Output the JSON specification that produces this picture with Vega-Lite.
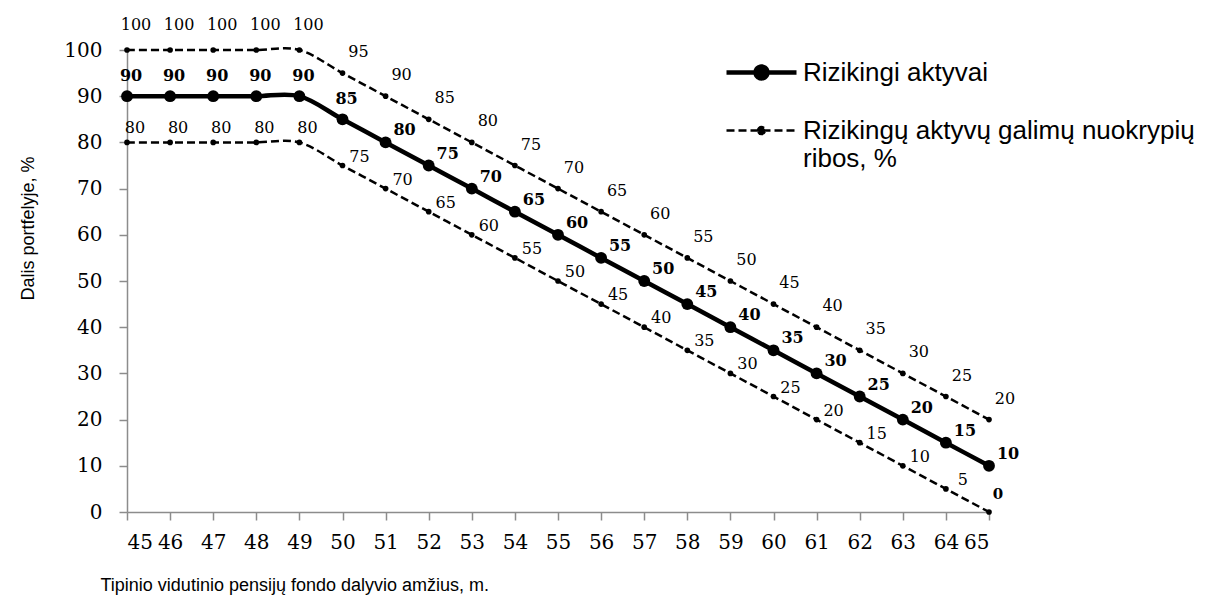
{
  "$schema": "https://vega.github.io/schema/vega-lite/v6.json",
  "width": 862,
  "height": 462,
  "autosize": "none",
  "padding": {"left": 127, "top": 50, "right": 219, "bottom": 86},
  "background": "white",
  "config": {
    "view": {"stroke": null},
    "legend": {
      "padding": 0,
      "labelFont": "Liberation Sans",
      "labelFontSize": 26,
      "labelColor": "#000000",
      "labelLimit": 600,
      "labelOffset": 4,
      "rowPadding": 6,
      "symbolOpacity": 1,
      "symbolStrokeColor": "#000000",
      "symbolFillColor": "#000000"
    },
    "axis": {
      "grid": false,
      "domainColor": "#8c8c8c",
      "domainWidth": 1.5,
      "tickColor": "#8c8c8c",
      "tickWidth": 1.5,
      "tickSize": 8,
      "labelFont": "DejaVu Serif",
      "labelFontSize": 20,
      "labelColor": "#000000",
      "titleFont": "Liberation Sans",
      "titleFontSize": 18,
      "titleFontWeight": "normal",
      "titleColor": "#000000"
    }
  },
  "data": {
    "values": [
      {"age": 45, "value": 100, "line": "upper", "type": "Rizikingų aktyvų galimų nuokrypių ribos, %"},
      {"age": 46, "value": 100, "line": "upper", "type": "Rizikingų aktyvų galimų nuokrypių ribos, %"},
      {"age": 47, "value": 100, "line": "upper", "type": "Rizikingų aktyvų galimų nuokrypių ribos, %"},
      {"age": 48, "value": 100, "line": "upper", "type": "Rizikingų aktyvų galimų nuokrypių ribos, %"},
      {"age": 49, "value": 100, "line": "upper", "type": "Rizikingų aktyvų galimų nuokrypių ribos, %"},
      {"age": 50, "value": 95, "line": "upper", "type": "Rizikingų aktyvų galimų nuokrypių ribos, %"},
      {"age": 51, "value": 90, "line": "upper", "type": "Rizikingų aktyvų galimų nuokrypių ribos, %"},
      {"age": 52, "value": 85, "line": "upper", "type": "Rizikingų aktyvų galimų nuokrypių ribos, %"},
      {"age": 53, "value": 80, "line": "upper", "type": "Rizikingų aktyvų galimų nuokrypių ribos, %"},
      {"age": 54, "value": 75, "line": "upper", "type": "Rizikingų aktyvų galimų nuokrypių ribos, %"},
      {"age": 55, "value": 70, "line": "upper", "type": "Rizikingų aktyvų galimų nuokrypių ribos, %"},
      {"age": 56, "value": 65, "line": "upper", "type": "Rizikingų aktyvų galimų nuokrypių ribos, %"},
      {"age": 57, "value": 60, "line": "upper", "type": "Rizikingų aktyvų galimų nuokrypių ribos, %"},
      {"age": 58, "value": 55, "line": "upper", "type": "Rizikingų aktyvų galimų nuokrypių ribos, %"},
      {"age": 59, "value": 50, "line": "upper", "type": "Rizikingų aktyvų galimų nuokrypių ribos, %"},
      {"age": 60, "value": 45, "line": "upper", "type": "Rizikingų aktyvų galimų nuokrypių ribos, %"},
      {"age": 61, "value": 40, "line": "upper", "type": "Rizikingų aktyvų galimų nuokrypių ribos, %"},
      {"age": 62, "value": 35, "line": "upper", "type": "Rizikingų aktyvų galimų nuokrypių ribos, %"},
      {"age": 63, "value": 30, "line": "upper", "type": "Rizikingų aktyvų galimų nuokrypių ribos, %"},
      {"age": 64, "value": 25, "line": "upper", "type": "Rizikingų aktyvų galimų nuokrypių ribos, %"},
      {"age": 65, "value": 20, "line": "upper", "type": "Rizikingų aktyvų galimų nuokrypių ribos, %"},
      {"age": 45, "value": 90, "line": "main", "type": "Rizikingi aktyvai"},
      {"age": 46, "value": 90, "line": "main", "type": "Rizikingi aktyvai"},
      {"age": 47, "value": 90, "line": "main", "type": "Rizikingi aktyvai"},
      {"age": 48, "value": 90, "line": "main", "type": "Rizikingi aktyvai"},
      {"age": 49, "value": 90, "line": "main", "type": "Rizikingi aktyvai"},
      {"age": 50, "value": 85, "line": "main", "type": "Rizikingi aktyvai"},
      {"age": 51, "value": 80, "line": "main", "type": "Rizikingi aktyvai"},
      {"age": 52, "value": 75, "line": "main", "type": "Rizikingi aktyvai"},
      {"age": 53, "value": 70, "line": "main", "type": "Rizikingi aktyvai"},
      {"age": 54, "value": 65, "line": "main", "type": "Rizikingi aktyvai"},
      {"age": 55, "value": 60, "line": "main", "type": "Rizikingi aktyvai"},
      {"age": 56, "value": 55, "line": "main", "type": "Rizikingi aktyvai"},
      {"age": 57, "value": 50, "line": "main", "type": "Rizikingi aktyvai"},
      {"age": 58, "value": 45, "line": "main", "type": "Rizikingi aktyvai"},
      {"age": 59, "value": 40, "line": "main", "type": "Rizikingi aktyvai"},
      {"age": 60, "value": 35, "line": "main", "type": "Rizikingi aktyvai"},
      {"age": 61, "value": 30, "line": "main", "type": "Rizikingi aktyvai"},
      {"age": 62, "value": 25, "line": "main", "type": "Rizikingi aktyvai"},
      {"age": 63, "value": 20, "line": "main", "type": "Rizikingi aktyvai"},
      {"age": 64, "value": 15, "line": "main", "type": "Rizikingi aktyvai"},
      {"age": 65, "value": 10, "line": "main", "type": "Rizikingi aktyvai"},
      {"age": 45, "value": 80, "line": "lower", "type": "Rizikingų aktyvų galimų nuokrypių ribos, %"},
      {"age": 46, "value": 80, "line": "lower", "type": "Rizikingų aktyvų galimų nuokrypių ribos, %"},
      {"age": 47, "value": 80, "line": "lower", "type": "Rizikingų aktyvų galimų nuokrypių ribos, %"},
      {"age": 48, "value": 80, "line": "lower", "type": "Rizikingų aktyvų galimų nuokrypių ribos, %"},
      {"age": 49, "value": 80, "line": "lower", "type": "Rizikingų aktyvų galimų nuokrypių ribos, %"},
      {"age": 50, "value": 75, "line": "lower", "type": "Rizikingų aktyvų galimų nuokrypių ribos, %"},
      {"age": 51, "value": 70, "line": "lower", "type": "Rizikingų aktyvų galimų nuokrypių ribos, %"},
      {"age": 52, "value": 65, "line": "lower", "type": "Rizikingų aktyvų galimų nuokrypių ribos, %"},
      {"age": 53, "value": 60, "line": "lower", "type": "Rizikingų aktyvų galimų nuokrypių ribos, %"},
      {"age": 54, "value": 55, "line": "lower", "type": "Rizikingų aktyvų galimų nuokrypių ribos, %"},
      {"age": 55, "value": 50, "line": "lower", "type": "Rizikingų aktyvų galimų nuokrypių ribos, %"},
      {"age": 56, "value": 45, "line": "lower", "type": "Rizikingų aktyvų galimų nuokrypių ribos, %"},
      {"age": 57, "value": 40, "line": "lower", "type": "Rizikingų aktyvų galimų nuokrypių ribos, %"},
      {"age": 58, "value": 35, "line": "lower", "type": "Rizikingų aktyvų galimų nuokrypių ribos, %"},
      {"age": 59, "value": 30, "line": "lower", "type": "Rizikingų aktyvų galimų nuokrypių ribos, %"},
      {"age": 60, "value": 25, "line": "lower", "type": "Rizikingų aktyvų galimų nuokrypių ribos, %"},
      {"age": 61, "value": 20, "line": "lower", "type": "Rizikingų aktyvų galimų nuokrypių ribos, %"},
      {"age": 62, "value": 15, "line": "lower", "type": "Rizikingų aktyvų galimų nuokrypių ribos, %"},
      {"age": 63, "value": 10, "line": "lower", "type": "Rizikingų aktyvų galimų nuokrypių ribos, %"},
      {"age": 64, "value": 5, "line": "lower", "type": "Rizikingų aktyvų galimų nuokrypių ribos, %"},
      {"age": 65, "value": 0, "line": "lower", "type": "Rizikingų aktyvų galimų nuokrypių ribos, %"}
    ]
  },
  "encoding": {
    "x": {
      "field": "age",
      "type": "quantitative",
      "scale": {"domain": [45, 65], "nice": false, "zero": false},
      "axis": {
        "values": [45,46,47,48,49,50,51,52,53,54,55,56,57,58,59,60,61,62,63,64,65],
        "labelPadding": 12,
        "title": "Tipinio vidutinio pensijų fondo dalyvio amžius, m.",
        "titleAnchor": "start",
        "titleAlign": "left",
        "titleBaseline": "alphabetic",
        "titleX": -27,
        "titleY": 78
      }
    },
    "y": {
      "field": "value",
      "type": "quantitative",
      "scale": {"domain": [0, 100], "nice": false},
      "axis": {
        "values": [0,10,20,30,40,50,60,70,80,90,100],
        "labelPadding": 17,
        "title": "Dalis portfelyje, %",
        "titleAlign": "center",
        "titleBaseline": "alphabetic",
        "titleX": -94,
        "titleY": 178
      }
    }
  },
  "layer": [
    {
      "transform": [{"filter": "datum.line != 'main'"}],
      "mark": {"type": "line", "interpolate": "cardinal", "color": "#000000", "strokeWidth": 2.5, "strokeDash": [8, 4]},
      "encoding": {"detail": {"field": "line"}}
    },
    {
      "transform": [{"filter": "datum.line == 'main'"}],
      "mark": {"type": "line", "interpolate": "cardinal", "color": "#000000", "strokeWidth": 4.5},
      "encoding": {}
    },
    {
      "transform": [{"filter": "datum.line != 'main'"}],
      "mark": {"type": "circle", "opacity": 1, "color": "#000000", "size": 32},
      "encoding": {}
    },
    {
      "transform": [{"filter": "datum.line == 'main'"}],
      "mark": {"type": "circle", "opacity": 1, "color": "#000000", "size": 140},
      "encoding": {}
    },
    {
      "mark": {"type": "point", "filled": true, "opacity": 0, "fill": "#000000"},
      "encoding": {
        "shape": {
          "field": "type",
          "type": "nominal",
          "scale": {
            "domain": ["Rizikingi aktyvai", "Rizikingų aktyvų galimų nuokrypių ribos, %"],
            "range": [
              "M-1,0L1,0M-0.17,0A0.17,0.17,0,1,1,0.17,0A0.17,0.17,0,1,1,-0.17,0Z",
              "M-1,0L1,0M-0.1,0A0.1,0.1,0,1,1,0.1,0A0.1,0.1,0,1,1,-0.1,0Z"
            ]
          },
          "legend": {
            "title": null,
            "orient": "none",
            "legendX": 597,
            "legendY": -15,
            "rowPadding": 6,
            "symbolSize": 4900,
            "labelExpr": "datum.label == 'Rizikingi aktyvai' ? datum.label : ['Rizikingų aktyvų galimų nuokrypių', 'ribos, %']",
            "encode": {"labels": {"lineHeight": {"value": 33}}}
          }
        },
        "stroke": {
          "field": "type",
          "type": "nominal",
          "scale": {"domain": ["Rizikingi aktyvai", "Rizikingų aktyvų galimų nuokrypių ribos, %"], "range": ["#000000", "#000000"]},
          "legend": {
            "title": null,
            "orient": "none",
            "legendX": 597,
            "legendY": -15,
            "rowPadding": 6,
            "symbolSize": 4900,
            "labelExpr": "datum.label == 'Rizikingi aktyvai' ? datum.label : ['Rizikingų aktyvų galimų nuokrypių', 'ribos, %']",
            "encode": {"labels": {"lineHeight": {"value": 33}}}
          }
        },
        "size": {
          "field": "type",
          "type": "nominal",
          "scale": {"domain": ["Rizikingi aktyvai", "Rizikingų aktyvų galimų nuokrypių ribos, %"], "range": [4900, 4900]},
          "legend": {
            "title": null,
            "orient": "none",
            "legendX": 597,
            "legendY": -15,
            "rowPadding": 6,
            "symbolSize": 4900,
            "labelExpr": "datum.label == 'Rizikingi aktyvai' ? datum.label : ['Rizikingų aktyvų galimų nuokrypių', 'ribos, %']",
            "encode": {"labels": {"lineHeight": {"value": 33}}}
          }
        },
        "strokeDash": {
          "field": "type",
          "type": "nominal",
          "scale": {"domain": ["Rizikingi aktyvai", "Rizikingų aktyvų galimų nuokrypių ribos, %"], "range": [[1, 0], [8, 4]]},
          "legend": {
            "title": null,
            "orient": "none",
            "legendX": 597,
            "legendY": -15,
            "rowPadding": 6,
            "symbolSize": 4900,
            "labelExpr": "datum.label == 'Rizikingi aktyvai' ? datum.label : ['Rizikingų aktyvų galimų nuokrypių', 'ribos, %']",
            "encode": {"labels": {"lineHeight": {"value": 33}}}
          }
        },
        "strokeWidth": {
          "field": "type",
          "type": "nominal",
          "scale": {"domain": ["Rizikingi aktyvai", "Rizikingų aktyvų galimų nuokrypių ribos, %"], "range": [4.5, 2.5]},
          "legend": {
            "title": null,
            "orient": "none",
            "legendX": 597,
            "legendY": -15,
            "rowPadding": 6,
            "symbolSize": 4900,
            "labelExpr": "datum.label == 'Rizikingi aktyvai' ? datum.label : ['Rizikingų aktyvų galimų nuokrypių', 'ribos, %']",
            "encode": {"labels": {"lineHeight": {"value": 33}}}
          }
        }
      }
    },
    {
      "transform": [{"filter": "datum.line == 'main' && datum.age <= 50"}],
      "mark": {"type": "text", "font": "DejaVu Serif", "fontWeight": "bold", "fontSize": 16, "baseline": "middle", "dx": 4, "dy": -20, "color": "#000000"},
      "encoding": {"text": {"field": "value", "type": "quantitative"}}
    },
    {
      "transform": [{"filter": "datum.line == 'main' && datum.age > 50"}],
      "mark": {"type": "text", "font": "DejaVu Serif", "fontWeight": "bold", "fontSize": 16, "baseline": "middle", "dx": 19, "dy": -12, "color": "#000000"},
      "encoding": {"text": {"field": "value", "type": "quantitative"}}
    },
    {
      "transform": [{"filter": "datum.line == 'upper' && datum.age <= 49"}],
      "mark": {"type": "text", "font": "DejaVu Serif", "fontSize": 16, "baseline": "middle", "dx": 9, "dy": -25, "color": "#000000"},
      "encoding": {"text": {"field": "value", "type": "quantitative"}}
    },
    {
      "transform": [{"filter": "datum.line == 'upper' && datum.age >= 50"}],
      "mark": {"type": "text", "font": "DejaVu Serif", "fontSize": 16, "baseline": "middle", "dx": 16, "dy": -21, "color": "#000000"},
      "encoding": {"text": {"field": "value", "type": "quantitative"}}
    },
    {
      "transform": [{"filter": "datum.line == 'lower' && datum.age <= 49"}],
      "mark": {"type": "text", "font": "DejaVu Serif", "fontSize": 16, "baseline": "middle", "dx": 8, "dy": -14, "color": "#000000"},
      "encoding": {"text": {"field": "value", "type": "quantitative"}}
    },
    {
      "transform": [{"filter": "datum.line == 'lower' && datum.age >= 50 && datum.age < 65"}],
      "mark": {"type": "text", "font": "DejaVu Serif", "fontSize": 16, "baseline": "middle", "dx": 17, "dy": -9, "color": "#000000"},
      "encoding": {"text": {"field": "value", "type": "quantitative"}}
    },
    {
      "transform": [{"filter": "datum.line == 'lower' && datum.age == 65"}],
      "mark": {"type": "text", "font": "DejaVu Serif", "fontWeight": "bold", "fontSize": 15, "baseline": "middle", "dx": 9, "dy": -18, "color": "#000000"},
      "encoding": {"text": {"field": "value", "type": "quantitative"}}
    }
  ]
}
